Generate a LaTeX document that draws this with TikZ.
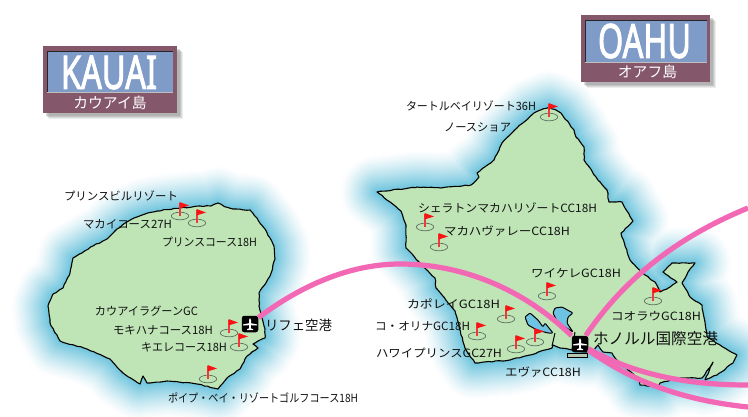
\documentclass[tikz,border=0pt]{standalone}
\usepackage{graphicx}
\usepackage{fontspec}
\setmainfont{Noto Sans CJK JP}
\newfontfamily\titlefont{Noto Sans}[FakeBold=2.5]
\usetikzlibrary{decorations.pathmorphing}
\definecolor{landc}{HTML}{BFE5B6}
\definecolor{seac}{HTML}{72C6DE}
\definecolor{loch}{HTML}{6FC3E2}
\definecolor{routec}{HTML}{F268B4}
\definecolor{platec}{HTML}{84586A}
\definecolor{panelc}{HTML}{7F9CC8}
\definecolor{inkc}{HTML}{111111}
\definecolor{flagc}{HTML}{F81414}
\definecolor{polec}{HTML}{EE3A3A}
\definecolor{greenc}{HTML}{5E7060}
\def\kauaipath{(132,219) -- (145,214) -- (157,211) -- (180,208) -- (200,206) -- (211,206) -- (218,203) -- (226,207) -- (233,209) -- (250,210) -- (258,220) -- (265,229) -- (270,238) -- (274,246) -- (275,259) -- (270,276) -- (259,293) -- (259,306) -- (262,318) -- (265,329) -- (265,338) -- (253,344) -- (258,348) -- (247,356) -- (240,369) -- (227,378) -- (218,389) -- (197,384) -- (167,381) -- (147,383) -- (143,376) -- (140,384) -- (123,373) -- (110,359) -- (87,349) -- (60,341) -- (50,323) -- (48,306) -- (53,294) -- (63,288) -- (70,273) -- (73,258) -- (93,246) -- (107,239) -- (117,229) -- cycle}
\def\oahupath{(377,192) -- (417,187) -- (441,188) -- (471,185) -- (479,177) -- (477,173) -- (494,160) -- (502,143) -- (517,128) -- (534,113) -- (549,107) -- (561,113) -- (574,130) -- (576,137) -- (584,147) -- (584,160) -- (596,177) -- (607,190) -- (609,202) -- (622,202) -- (625,208) -- (633,221) -- (621,233) -- (630,260) -- (645,275) -- (655,282) -- (660,292) -- (670,287) -- (677,282) -- (663,272) -- (672,263) -- (695,263) -- (688,272) -- (682,283) -- (690,297) -- (702,305) -- (705,322) -- (707,337) -- (720,345) -- (737,355) -- (733,363) -- (717,375) -- (705,380) -- (713,362) -- (702,378) -- (678,378) -- (660,383) -- (658,387) -- (640,385) -- (638,378) -- (628,370) -- (615,358) -- (612,353) -- (603,352) -- (598,345) -- (592,352) -- (586,352) -- (572,350) -- (560,348) -- (553,345) -- (552,348) -- (530,355) -- (510,360) -- (475,363) -- (465,348) -- (455,311) -- (436,288) -- (435,278) -- (418,261) -- (406,248) -- (406,225) -- (401,211) -- cycle}
\tikzset{
  x=1pt,y=-1pt,
  coast/.style={draw=black,fill=landc,line width=1.1pt,line join=round,
    decorate,decoration={random steps,segment length=3.5pt,amplitude=0.5pt}},
  lochshape/.style={draw=black,fill=loch,line width=1pt,line join=round,rounded corners=1pt},
  route/.style={draw=routec,line width=5.2pt},
  lab/.style={anchor=west,inner sep=0pt,outer sep=0pt,text=inkc},
  airport/.style={fill=black,rounded corners=2.5pt,minimum size=16.5pt,inner sep=0pt},
  plate/.style={fill=platec},
  panel/.style={fill=panelc},
  golf/.pic={
    \draw[greenc,line width=0.7pt] (0,0) ellipse [x radius=8.7pt,y radius=3.8pt];
    \draw[polec,line width=1.2pt] (0,0) -- (0,-13);
    \fill[flagc] (-0.5,-14) -- (9,-10.5) -- (-0.5,-7.5) -- cycle;
  },
  jet/.pic={
    \fill[white] (-7,0.4) -- (-1,-0.8) -- (-1,-4) .. controls (-1,-6.5) and (1,-6.5) .. (1,-4) -- (1,-0.8) -- (7,0.4) -- (7,1.5) -- (1,1.2) -- (0.8,4.2) -- (3,5.2) -- (3,6) -- (-3,6) -- (-3,5.2) -- (-0.8,4.2) -- (-1,1.2) -- (-7,1.5) -- cycle;
  }
}
\newcommand{\lbl}[6][11.4]{\node[lab] (#2) at (#3,#5) {\fontsize{#1}{#1}\selectfont\resizebox{#4pt}{\height}{#6}};}
\begin{document}
\begin{tikzpicture}
\useasboundingbox (0,0) rectangle (748,416);
\fill[white] (0,0) rectangle (748,416);
% sea glow
\foreach \d in {36,35,...,1}{
  \pgfmathsetmacro{\pct}{100*pow((37-\d)/36,1.25)}
  \draw[line width=2*\d pt,color=seac!\pct!white,line join=round] \kauaipath;
  \draw[line width=2*\d pt,color=seac!\pct!white,line join=round] \oahupath;
}
% islands
\path[coast] \kauaipath;
\path[coast] \oahupath;
% Pearl Harbor
\path[lochshape] (525,317) -- (530,313) -- (538,320) -- (543,327) -- (545,323) -- (553,333) -- (548,333) -- (537,330) -- (528,325) -- cycle;
\path[lochshape] (555,308) -- (562,307) -- (573,313) -- (568,317) -- (567,323) -- (573,332) -- (565,327) -- (558,323) -- (553,313) -- cycle;
\draw[black,line width=1pt] (555,333) -- (552,346);
\draw[black,line width=1pt] (575,332) -- (572,350);
\draw[black,line width=1pt,fill=landc!70!black!60!white] (567,353.5) rectangle (587,357.5);
% flags
\foreach \x/\y in {180/216,197/223,229/333,239/347,208/379,549/117,425/227,439/247,547/296,653/301,506/319,477/336,516/349,535/342}
  \pic at (\x,\y) {golf};
% airports and routes
\node[airport] (lihue) at (250,324) {};
\node[airport] (hnl) at (580,344) {};
\coordinate (apex) at (400,264);
\coordinate (eastA) at (748,208);
\coordinate (eastB) at (748,385);
\coordinate (eastC) at (748,407);
\draw[route] (lihue) .. controls (295,290) and (345,264) .. (apex) .. controls (470,264) and (530,295) .. (hnl);
\draw[route] (hnl) .. controls (620,285) and (670,240) .. (eastA);
\draw[route] (hnl) .. controls (630,372) and (680,385) .. (eastB);
\draw[route] (hnl) .. controls (630,380) and (680,400) .. (eastC);
\pic at (250,324) {jet};
\pic at (580,344) {jet};
% plates
\foreach \o/\a in {6/.15,5/.2,4/.25,3/.3}{
  \fill[black!45,opacity=\a] (43+\o,46+\o) rectangle (177+\o,113+\o);
  \fill[black!45,opacity=\a] (581+\o,15+\o) rectangle (710+\o,82+\o);
}
\fill[plate] (43,46) rectangle (177,113);
\fill[panel] (47,51) rectangle (173,92);
\draw[black!85,line width=1pt] (47,51.5) -- (173,51.5);
\draw[black!85,line width=1pt] (47.5,51) -- (47.5,92);
\draw[black!25,line width=.8pt] (47,92) -- (173,92);
\node[inner sep=0pt,text=white] (kauaititle) at (109,72.5) {\resizebox{96pt}{33pt}{\titlefont KAUAI}};
\node[inner sep=0pt,text=white] (kauaisub) at (110,103) {\fontsize{14.8}{15}\selectfont カウアイ島};
\fill[plate] (581,15) rectangle (710,82);
\fill[panel] (585,20) rectangle (707,62);
\draw[black!85,line width=1pt] (585,20.5) -- (707,20.5);
\draw[black!85,line width=1pt] (585.5,20) -- (585.5,62);
\draw[black!25,line width=.8pt] (585,62) -- (707,62);
\node[inner sep=0pt,text=white] (oahutitle) at (644.5,41) {\resizebox{93pt}{34pt}{\titlefont OAHU}};
\node[inner sep=0pt,text=white] (oahusub) at (647.5,72) {\fontsize{14.8}{15}\selectfont オアフ島};
% labels
\lbl{k1}{64}{114}{196}{プリンスビルリゾート}
\lbl{k2}{83}{89}{224}{マカイコース27H}
\lbl{k3}{162}{95}{242}{プリンスコース18H}
\lbl{k4}{95}{103}{311}{カウアイラグーンGC}
\lbl{k5}{113}{100}{330}{モキハナコース18H}
\lbl{k6}{141}{86}{347}{キエレコース18H}
\lbl{k7}{168}{190}{398}{ポイプ・ベイ・リゾートゴルフコース18H}
\lbl[13.6]{k8}{265}{67}{325}{リフェ空港}
\lbl{o1}{406}{130}{106}{タートルベイリゾート36H}
\lbl{o2}{444}{67}{127}{ノースショア}
\lbl{o3}{418}{179}{208}{シェラトンマカハリゾートCC18H}
\lbl{o4}{444}{126}{231}{マカハヴァレーCC18H}
\lbl{o5}{531}{90}{273}{ワイケレGC18H}
\lbl{o6}{407}{93}{304}{カポレイGC18H}
\lbl{o7}{375}{95}{326}{コ・オリナGC18H}
\lbl{o8}{376}{126}{353}{ハワイプリンスGC27H}
\lbl{o9}{505}{76}{372}{エヴァCC18H}
\lbl{o10}{611}{90}{316}{コオラウGC18H}
\lbl[15.6]{o11}{593}{125}{339}{ホノルル国際空港}
\end{tikzpicture}
\end{document}
